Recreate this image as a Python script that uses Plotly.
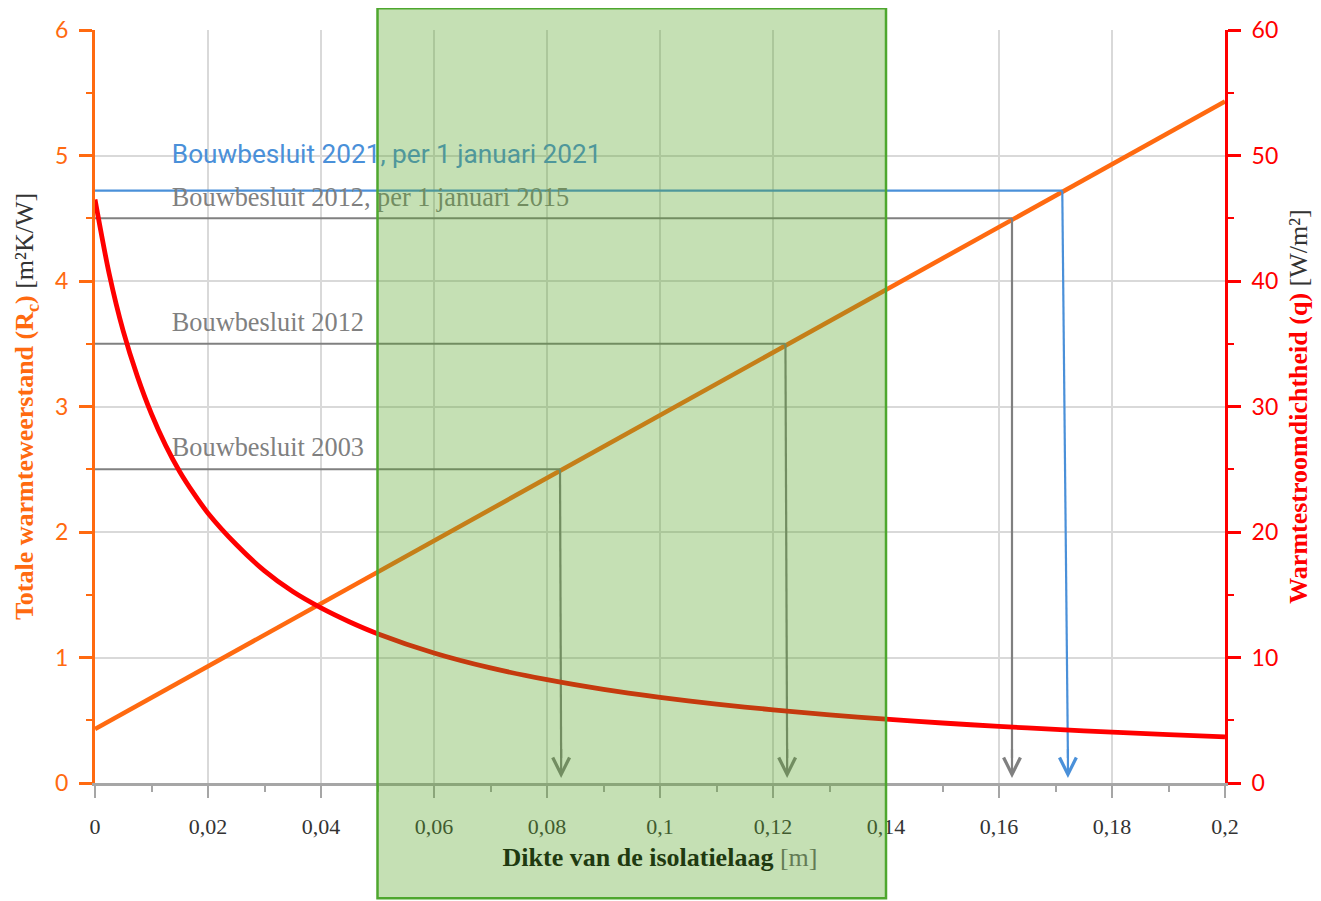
import plotly.graph_objects as go

# ---------------- data ----------------
x_ticks = [0, 0.02, 0.04, 0.06, 0.08, 0.1, 0.12, 0.14, 0.16, 0.18, 0.2]
x_tick_labels = ["0", "0,02", "0,04", "0,06", "0,08", "0,1", "0,12", "0,14", "0,16", "0,18", "0,2"]

# Total thermal resistance Rc (left axis)
rc_x = [0, 0.05, 0.1, 0.15, 0.2]
rc_y = [0.43, 1.68, 2.93, 4.18, 5.43]

# Heat flux density q (right axis)
q_x = [0, 0.0025, 0.005, 0.0075, 0.01, 0.0125, 0.015, 0.0175, 0.02, 0.025, 0.03, 0.035,
       0.04, 0.045, 0.05, 0.06, 0.07, 0.08, 0.09, 0.1, 0.11, 0.12, 0.13, 0.14, 0.15,
       0.16, 0.17, 0.18, 0.19, 0.2]
q_y = [46.5, 40.6, 36.0, 32.4, 29.4, 26.9, 24.8, 23.05, 21.5, 19.0, 16.9, 15.25,
       13.95, 12.85, 11.9, 10.36, 9.17, 8.23, 7.46, 6.83, 6.29, 5.83, 5.43, 5.09, 4.78,
       4.51, 4.27, 4.05, 3.86, 3.68]

# Requirement levels (Rc) and the thickness where the Rc line reaches them
req_names = ["Bouwbesluit 2021, per 1 januari 2021", "Bouwbesluit 2012, per 1 januari 2015",
             "Bouwbesluit 2012", "Bouwbesluit 2003"]
req_levels = [4.72, 4.50, 3.50, 2.50]
req_x_top = [0.1712, 0.1623, 0.1222, 0.0823]
req_x_bottom = [0.1722, 0.1623, 0.1225, 0.0825]
req_label_x = [0.0136, 0.0136, 0.0136, 0.0136]
req_label_y = [4.99, 4.65, 3.65, 2.66]

highlight_range = [0.05, 0.14]

x_max = 0.2
rc_max = 6
q_max = 60

# ---------------- styles ----------------
ORANGE = "#ff6a10"
RED = "#ff0000"
BLUE = "#4a90d9"
GRAY = "#808080"
GRAY_TINT = "#728d61"
req_colors = [BLUE, GRAY, GRAY, GRAY]
req_fonts = ["Roboto", "Liberation Serif", "Liberation Serif", "Liberation Serif"]
req_sizes = [26.2, 26.3, 26.3, 26.3]

fig = go.Figure()

fig.add_trace(go.Scatter(x=rc_x, y=rc_y, mode="lines", line=dict(color=ORANGE, width=4.5),
                         yaxis="y", showlegend=False, hoverinfo="skip"))
fig.add_trace(go.Scatter(x=q_x, y=q_y, mode="lines", line=dict(color=RED, width=4.8, shape="spline", smoothing=0.8),
                         yaxis="y2", showlegend=False, hoverinfo="skip"))

for i in range(len(req_levels)):
    fig.add_trace(go.Scatter(x=[0, req_x_top[i]], y=[req_levels[i], req_levels[i]], mode="lines",
                             line=dict(color=req_colors[i], width=2.2), yaxis="y",
                             showlegend=False, hoverinfo="skip"))
    fig.add_trace(go.Scatter(x=[req_x_top[i], req_x_bottom[i]], y=[req_levels[i], 0.2], mode="lines",
                             line=dict(color=req_colors[i], width=2.2), yaxis="y",
                             showlegend=False, hoverinfo="skip"))
    fig.add_trace(go.Scatter(x=[req_label_x[i]], y=[req_label_y[i]], mode="text",
                             text=[req_names[i]], textposition="middle right",
                             textfont=dict(family=req_fonts[i], size=req_sizes[i],
                                           color=req_colors[i]),
                             yaxis="y", showlegend=False, hoverinfo="skip"))
    inside = highlight_range[0] <= req_x_bottom[i] <= highlight_range[1]
    fig.add_annotation(x=req_x_bottom[i], y=0.04, ax=req_x_bottom[i], ay=0.35,
                       xref="x", yref="y", axref="x", ayref="y", text=" ",
                       showarrow=True, arrowhead=5, arrowsize=1.5, arrowwidth=2.2,
                       arrowcolor=GRAY_TINT if inside else req_colors[i], standoff=0)

# highlighted thickness range
fig.add_shape(type="rect", xref="paper", yref="paper",
              x0=highlight_range[0] / x_max, x1=highlight_range[1] / x_max,
              y0=-0.153, y1=1.029, layer="above",
              fillcolor="rgba(89,166,41,0.35)", line=dict(color="#4ea72e", width=2.5))

fig.update_layout(
    width=1321, height=901,
    paper_bgcolor="white", plot_bgcolor="white",
    margin=dict(l=87, r=104, t=22, b=126, autoexpand=False),
    xaxis=dict(
        range=[0, x_max], tickvals=x_ticks, ticktext=x_tick_labels, automargin=False,
        showgrid=True, gridcolor="#d9d9d9", gridwidth=2,
        showline=True, linecolor="#a6a6a6", linewidth=3, zeroline=False,
        ticks="outside", ticklen=12, tickwidth=2, tickcolor="#a6a6a6",
        ticklabelstandoff=10,
        tickfont=dict(family="Liberation Serif", size=22, color="#333333"),
        minor=dict(dtick=0.01, ticks="outside", ticklen=6, tickwidth=2, tickcolor="#a6a6a6", showgrid=False),
        title=dict(text="<b>Dikte van de isolatielaag</b> <span style='color:#637b55'>[m]</span>",
                   font=dict(family="Liberation Serif", size=26, color="#1f3a10"), standoff=10),
    ),
    yaxis=dict(
        range=[0, rc_max], dtick=1, automargin=False,
        showgrid=True, gridcolor="#d9d9d9", gridwidth=2,
        showline=True, linecolor=ORANGE, linewidth=3, zeroline=False,
        ticks="outside", ticklen=13, tickwidth=3, tickcolor=ORANGE,
        ticklabelstandoff=6,
        tickfont=dict(family="Lato", size=23, color=ORANGE),
        minor=dict(dtick=0.5, ticks="outside", ticklen=6, tickwidth=2, tickcolor=ORANGE, showgrid=False),
        title=dict(text="<b>Totale warmteweerstand (R<sub>c</sub>)</b> <span style='color:#333333'>[m²K/W]</span>",
                   font=dict(family="Liberation Serif", size=26, color=ORANGE), standoff=14),
    ),
    yaxis2=dict(
        range=[0, q_max], dtick=10, overlaying="y", side="right", automargin=False,
        showgrid=False, showline=True, linecolor=RED, linewidth=3, zeroline=False,
        ticks="outside", ticklen=13, tickwidth=3, tickcolor=RED,
        ticklabelstandoff=6,
        tickfont=dict(family="Lato", size=23, color=RED),
        minor=dict(dtick=5, ticks="outside", ticklen=6, tickwidth=2, tickcolor=RED, showgrid=False),
        title=dict(text="<b>Warmtestroomdichtheid (q)</b> <span style='color:#333333'>[W/m²]</span>",
                   font=dict(family="Liberation Serif", size=26, color=RED), standoff=12),
    ),
)

fig.write_html("out.html")
